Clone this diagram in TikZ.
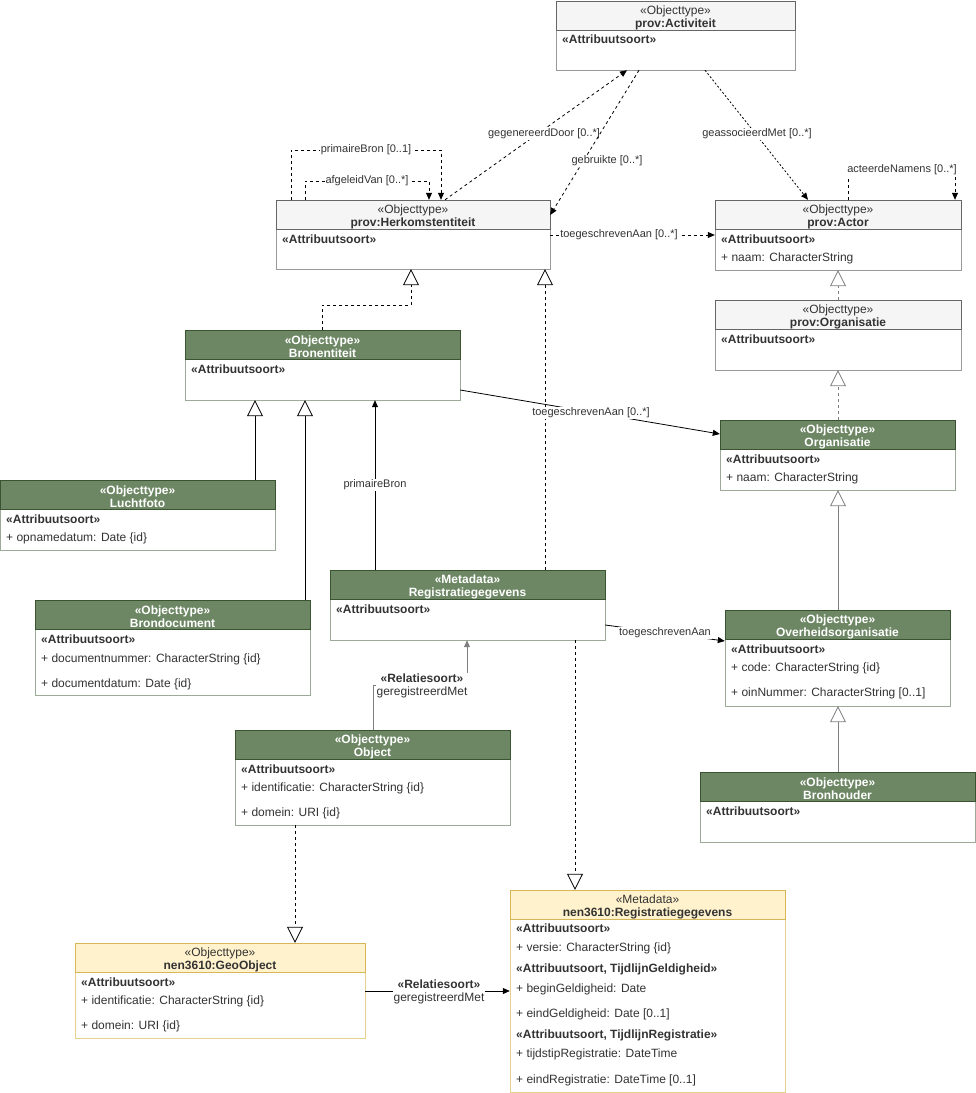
\documentclass[tikz,border=0pt]{standalone}
\usepackage{fontspec}
\setmainfont{Liberation Sans}
\usetikzlibrary{arrows.meta,fit,calc}
\definecolor{grayfill}{HTML}{F5F5F5}
\definecolor{grayline}{HTML}{666666}
\definecolor{graybodyline}{HTML}{999999}
\definecolor{greenfill}{HTML}{6D8764}
\definecolor{greenline}{HTML}{3A5431}
\definecolor{greenbodyline}{HTML}{9CAB97}
\definecolor{yelfill}{HTML}{FFF2CC}
\definecolor{yelline}{HTML}{D6B656}
\definecolor{yelbodyline}{HTML}{E6D08C}
\definecolor{txt}{HTML}{333333}
\definecolor{lgray}{HTML}{7F7F7F}
\tikzset{
  grayhead/.style={fill=grayfill,draw=grayline,line width=0.8pt},
  graybody/.style={fill=white,draw=graybodyline,line width=0.8pt},
  graytitle/.style={text=txt,align=center,inner sep=0pt,font=\fontsize{12}{13}\selectfont},
  greenhead/.style={fill=greenfill,draw=greenline,line width=0.8pt},
  greenbody/.style={fill=white,draw=greenbodyline,line width=0.8pt},
  greentitle/.style={text=white,align=center,inner sep=0pt,font=\fontsize{12}{13}\selectfont\bfseries},
  yelhead/.style={fill=yelfill,draw=yelline,line width=0.8pt},
  yelbody/.style={fill=white,draw=yelbodyline,line width=0.8pt},
  yeltitle/.style={text=txt,align=center,inner sep=0pt,font=\fontsize{12}{13}\selectfont},
  attrtext/.style={anchor=west,inner sep=0pt,text=txt,font=\fontsize{12}{13}\selectfont},
  attrhead/.style={anchor=west,inner sep=0pt,text=txt,font=\fontsize{12}{13}\selectfont\bfseries},
  lbl/.style={fill=white,inner sep=1pt,text=txt,font=\fontsize{11}{12}\selectfont},
  rellbl/.style={fill=white,inner sep=1pt,text=txt,align=center,font=\fontsize{12}{13}\selectfont},
  conn/.style={line width=0.8pt,draw=black},
  dashconn/.style={conn,dash pattern=on 3pt off 3pt},
  dotconn/.style={conn,dash pattern=on 2pt off 2pt},
  tip/.style={-{Triangle[length=7pt,width=6pt]}},
  gentip/.style={-{Triangle[open,length=16pt,width=16pt,fill=white]}},
}
\newcommand\umlbox[8]{%
  \path[#2body] (#3,#4) rectangle (#5,#6);
  \path[#2head] (#3,#4) rectangle (#5,{#4+29});
  \node[#2title] at ({(#3+#5)/2},{#4+16.5}) {#7\\\textbf{#8}};
  \node[fit={(#3,#4) (#5,#6)}, inner sep=0pt] (#1) {};
}
\begin{document}
\begin{tikzpicture}[x=1pt,y=-1pt]
\useasboundingbox (0,0) rectangle (976,1093);

% ---------- classes ----------
\umlbox{act}{gray}{556}{1}{795}{70}{«Objecttype»}{prov:Activiteit}
\node[attrhead] at (562,39) {«Attribuutsoort»};

\umlbox{herk}{gray}{276}{200}{550}{269}{«Objecttype»}{prov:Herkomstentiteit}
\node[attrhead] at (282,239) {«Attribuutsoort»};

\umlbox{actor}{gray}{715}{200}{961}{270}{«Objecttype»}{prov:Actor}
\node[attrhead] at (721,239) {«Attribuutsoort»};
\node[attrtext] at (721,258) {+ naam: CharacterString};

\umlbox{porg}{gray}{715}{300}{961}{370}{«Objecttype»}{prov:Organisatie}
\node[attrhead] at (721,339) {«Attribuutsoort»};

\umlbox{bron}{green}{185}{330}{460}{400}{«Objecttype»}{Bronentiteit}
\node[attrhead] at (191,369) {«Attribuutsoort»};

\umlbox{lucht}{green}{0}{480}{275}{550}{«Objecttype»}{Luchtfoto}
\node[attrhead] at (6,519) {«Attribuutsoort»};
\node[attrtext] at (6,538) {+ opnamedatum: Date \{id\}};

\umlbox{brondoc}{green}{35}{600}{310}{695}{«Objecttype»}{Brondocument}
\node[attrhead] at (41,639) {«Attribuutsoort»};
\node[attrtext] at (41,659) {+ documentnummer: CharacterString \{id\}};
\node[attrtext] at (41,684) {+ documentdatum: Date \{id\}};

\umlbox{reg}{green}{330}{570}{605}{640}{«Metadata»}{Registratiegegevens}
\node[attrhead] at (336,609) {«Attribuutsoort»};

\umlbox{org}{green}{720}{420}{955}{490}{«Objecttype»}{Organisatie}
\node[attrhead] at (726,459) {«Attribuutsoort»};
\node[attrtext] at (726,478) {+ naam: CharacterString};

\umlbox{overh}{green}{725}{610}{950}{706}{«Objecttype»}{Overheidsorganisatie}
\node[attrhead] at (731,649) {«Attribuutsoort»};
\node[attrtext] at (731,668) {+ code: CharacterString \{id\}};
\node[attrtext] at (731,693) {+ oinNummer: CharacterString [0..1]};

\umlbox{bronh}{green}{700}{772}{975}{842}{«Objecttype»}{Bronhouder}
\node[attrhead] at (706,811) {«Attribuutsoort»};

\umlbox{obj}{green}{235}{730}{510}{825}{«Objecttype»}{Object}
\node[attrhead] at (241,769) {«Attribuutsoort»};
\node[attrtext] at (241,788) {+ identificatie: CharacterString \{id\}};
\node[attrtext] at (241,813) {+ domein: URI \{id\}};

\umlbox{geo}{yel}{75}{943}{365}{1038}{«Objecttype»}{nen3610:GeoObject}
\node[attrhead] at (81,982) {«Attribuutsoort»};
\node[attrtext] at (81,1001) {+ identificatie: CharacterString \{id\}};
\node[attrtext] at (81,1026) {+ domein: URI \{id\}};

\umlbox{nreg}{yel}{510}{890}{785}{1092}{«Metadata»}{nen3610:Registratiegegevens}
\node[attrhead] at (516,928) {«Attribuutsoort»};
\node[attrtext] at (516,948) {+ versie: CharacterString \{id\}};
\node[attrhead] at (516,969) {«Attribuutsoort, TijdlijnGeldigheid»};
\node[attrtext] at (516,989) {+ beginGeldigheid: Date};
\node[attrtext] at (516,1014) {+ eindGeldigheid: Date [0..1]};
\node[attrhead] at (516,1035) {«Attribuutsoort, TijdlijnRegistratie»};
\node[attrtext] at (516,1054) {+ tijdstipRegistratie: DateTime};
\node[attrtext] at (516,1080) {+ eindRegistratie: DateTime [0..1]};

% ---------- connectors ----------
% prov associations
\draw[dashconn,tip] (herk.north -| 445,0) -- (act.south -| 627,0);
\node[lbl] at (544,134) {gegenereerdDoor [0..*]};
\draw[dashconn,tip] (act.south -| 639,0) -- (herk.east |- 0,215);
\node[lbl] at (607,161) {gebruikte [0..*]};
\draw[dotconn,tip] (act.south -| 705,0) -- (actor.north -| 808,0);
\node[lbl] at (757,134) {geassocieerdMet [0..*]};

\draw[dashconn,tip] (herk.north -| 291,0) -- (291,150) -- (441,150) -- (herk.north -| 441,0);
\node[lbl] at (366,150) {primaireBron [0..1]};
\draw[dashconn,tip] (herk.north -| 305,0) -- (305,181) -- (429,181) -- (herk.north -| 429,0);
\node[lbl] at (367,181) {afgeleidVan [0..*]};

\draw[dashconn,tip] (actor.north -| 848,0) -- (848,170) -- (955,170) -- (actor.north -| 955,0);
\node[lbl] at (902,170) {acteerdeNamens [0..*]};

\draw[dashconn,tip] (herk.east |- 0,235) -- (actor.west |- 0,235);
\node[lbl] at (619,235) {toegeschrevenAan [0..*]};

% generalisations
\draw[dashconn,gentip] (bron.north -| 322,0) -- (322,305) -- (411,305) -- (herk.south -| 411,0);
\draw[dashconn,gentip] (reg.north -| 545,0) -- (herk.south -| 545,0);
\draw[conn,gentip] (lucht.north -| 255,0) -- (bron.south -| 255,0);
\draw[conn,gentip] (brondoc.north -| 305,0) -- (bron.south -| 305,0);
\draw[dashconn,draw=lgray,gentip] (porg.north -| 838,0) -- (actor.south -| 838,0);
\draw[dashconn,draw=lgray,gentip] (org.north -| 838,0) -- (porg.south -| 838,0);
\draw[conn,draw=lgray,gentip] (overh.north -| 838,0) -- (org.south -| 838,0);
\draw[conn,draw=lgray,gentip] (bronh.north -| 838,0) -- (overh.south -| 838,0);
\draw[dashconn,gentip] (obj.south -| 295,0) -- (geo.north -| 295,0);
\draw[dashconn,gentip] (reg.south -| 575,0) -- (nreg.north -| 575,0);

% associations
\draw[conn,tip] (reg.north -| 375,0) -- (bron.south -| 375,0);
\node[lbl] at (375,485) {primaireBron};
\draw[conn,tip] (bron.east |- 0,390) -- (org.west |- 0,434);
\node[lbl] at (591,413) {toegeschrevenAan [0..*]};
\draw[conn,tip] (reg.east |- 0,625) -- (overh.west |- 0,641);
\node[lbl] at (665,633) {toegeschrevenAan};
\draw[conn,draw=lgray,tip] (obj.north -| 373,0) -- (373,685) -- (467,685) -- (reg.south -| 467,0);
\node[rellbl] at (422,686) {\textbf{«Relatiesoort»}\\geregistreerdMet};
\draw[conn,tip] (geo.east |- 0,991) -- (nreg.west |- 0,991);
\node[rellbl] at (439,992) {\textbf{«Relatiesoort»}\\geregistreerdMet};
\end{tikzpicture}
\end{document}
